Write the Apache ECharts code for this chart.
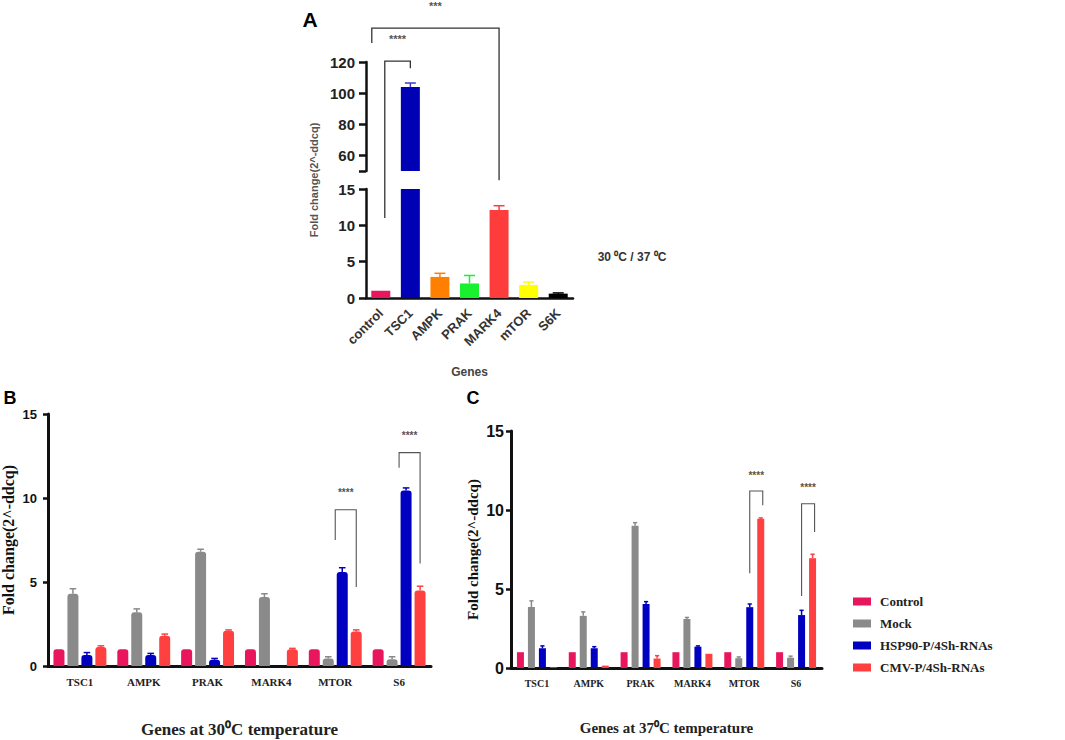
<!DOCTYPE html>
<html>
<head>
<meta charset="utf-8">
<script src="https://cdn.jsdelivr.net/npm/echarts@6.0.0/dist/echarts.min.js"></script>
<style>
  html, body { margin: 0; padding: 0; background: #fff; }
  #chart { width: 1065px; height: 740px; }
</style>
</head>
<body>
<div id="chart"></div>
<script>
// ---- data ----
// panel A: fold change 30C / 37C
var genesA = ['control', 'TSC1', 'AMPK', 'PRAK', 'MARK4', 'mTOR', 'S6K'];
var foldA  = [1.0, 104, 2.9, 2.0, 12.1, 1.8, 0.6];
var errA   = [1.0, 106.5, 3.4, 3.1, 12.7, 2.2, 0.7];

// panels B and C
var genesBC = ['TSC1', 'AMPK', 'PRAK', 'MARK4', 'MTOR', 'S6'];
var groups  = ['Control', 'Mock', 'HSP90-P/4Sh-RNAs', 'CMV-P/4Sh-RNAs'];

var b30Control = [1, 1, 1, 1, 1, 1];
var b30Mock    = [4.3, 3.2, 6.8, 4.1, 0.45, 0.4];
var b30Hsp     = [0.65, 0.65, 0.37, 0, 5.6, 10.45];
var b30Cmv     = [1.13, 1.8, 2.1, 1.0, 2.05, 4.5];
var b30MockErr = [4.6, 3.4, 6.95, 4.3, 0.55, 0.55];
var b30HspErr  = [0.8, 0.75, 0.45, 0, 5.85, 10.6];
var b30CmvErr  = [1.2, 1.9, 2.15, 1.05, 2.15, 4.75];

var c37Control = [1, 1, 1, 1, 1, 1];
var c37Mock    = [3.86, 3.3, 9.0, 3.1, 0.62, 0.65];
var c37Hsp     = [1.25, 1.25, 4.05, 1.35, 3.85, 3.35];
var c37Cmv     = [0.05, 0.15, 0.6, 0.9, 9.45, 6.95];
var c37MockErr = [4.25, 3.55, 9.2, 3.2, 0.7, 0.75];
var c37HspErr  = [1.4, 1.35, 4.2, 1.4, 4.05, 3.65];
var c37CmvErr  = [0.05, 0.15, 0.78, 0.9, 9.5, 7.2];

// significance brackets: gene index, left leg bottom, top, right leg bottom, stars level
var sigB = [[4, 7.5, 9.3, 4.7, 10.3], [5, 11.8, 12.7, 6.1, 13.75]];
var sigC = [[4, 6.0, 11.2, 10.3, 12.2], [5, 4.55, 10.4, 8.6, 11.45]];

// ---- styles ----
var SANS = "'Liberation Sans', Arial, sans-serif";
var SERIF = "'Liberation Serif', 'Times New Roman', serif";
var colorsA = ['#e8175d', '#0000b4', '#ff8000', '#19f02e', '#ff3c3c', '#ffff00', '#000000'];
var groupColors = ['#e8175d', '#8a8a8a', '#0000c0', '#ff4040'];

var chart = echarts.init(document.getElementById('chart'), null, { renderer: 'svg' });

// error bar drawn through the axes (x offset for grouped bars)
function errRender(offset, capW, color) {
  return function (params, api) {
    var lo = api.value(1), hi = api.value(2);
    if (!(hi > lo)) return;
    var p1 = api.coord([api.value(0), lo]);
    var p2 = api.coord([api.value(0), hi]);
    var cx = p1[0] + offset;
    return {
      type: 'group',
      children: [
        { type: 'line', shape: { x1: cx, y1: p1[1], x2: cx, y2: p2[1] }, style: { stroke: color, lineWidth: 1.5 } },
        { type: 'line', shape: { x1: cx - capW / 2, y1: p2[1], x2: cx + capW / 2, y2: p2[1] }, style: { stroke: color, lineWidth: 1.5 } }
      ]
    };
  };
}

function errData(vals, errs, keep) {
  return vals.map(function (v, i) {
    return keep(errs[i]) ? [i, v, errs[i]] : [i, '-', '-'];
  });
}

var axisBlack = { color: '#111', width: 2.5 };

var xAxes = [
  { gridIndex: 0, type: 'category', data: genesA, show: false },
  {
    gridIndex: 1, type: 'category', data: genesA,
    axisLine: { lineStyle: axisBlack },
    axisTick: { alignWithLabel: true, length: 8, lineStyle: axisBlack },
    axisLabel: { interval: 0, rotate: 45, margin: 13, fontFamily: SANS, fontWeight: 'bold', fontSize: 13, color: '#333' },
    name: 'Genes', nameLocation: 'middle', nameGap: 68,
    nameTextStyle: { fontFamily: SANS, fontWeight: 'bold', fontSize: 12, color: '#444' }
  },
  {
    gridIndex: 2, type: 'category', data: genesBC,
    axisLine: { lineStyle: { color: '#111', width: 3 } },
    axisTick: { alignWithLabel: true, length: 7, lineStyle: axisBlack },
    axisLabel: { interval: 0, margin: 10, fontFamily: SERIF, fontWeight: 'bold', fontSize: 11, color: '#222' },
    name: 'Genes at 30\u2070C temperature', nameLocation: 'middle', nameGap: 55,
    nameTextStyle: { fontFamily: SERIF, fontWeight: 'bold', fontSize: 17, color: '#222' }
  },
  {
    gridIndex: 3, type: 'category', data: genesBC,
    axisLine: { lineStyle: { color: '#111', width: 3 } },
    axisTick: { alignWithLabel: true, length: 6, lineStyle: axisBlack },
    axisLabel: { interval: 0, margin: 10, fontFamily: SERIF, fontWeight: 'bold', fontSize: 10, color: '#222' },
    name: 'Genes at 37\u2070C temperature', nameLocation: 'middle', nameGap: 52,
    nameTextStyle: { fontFamily: SERIF, fontWeight: 'bold', fontSize: 15, color: '#222' }
  }
];

var yAxes = [
  {
    gridIndex: 0, type: 'value', min: 50, max: 120,
    axisLine: { show: true, lineStyle: axisBlack },
    axisTick: { show: true, length: 7, lineStyle: axisBlack, customValues: [50, 60, 80, 100, 120] },
    axisLabel: { margin: 11, fontFamily: SANS, fontWeight: 'bold', fontSize: 15, color: '#222', customValues: [60, 80, 100, 120] },
    splitLine: { show: false }
  },
  {
    gridIndex: 1, type: 'value', min: 0, max: 15, interval: 5,
    axisLine: { show: true, lineStyle: axisBlack },
    axisTick: { show: true, length: 7, lineStyle: axisBlack },
    axisLabel: { margin: 11, fontFamily: SANS, fontWeight: 'bold', fontSize: 15, color: '#222' },
    splitLine: { show: false }
  },
  {
    gridIndex: 2, type: 'value', min: 0, max: 15, interval: 5,
    axisLine: { show: true, lineStyle: { color: '#111', width: 3 } },
    axisTick: { show: true, length: 5, lineStyle: axisBlack },
    axisLabel: { margin: 11, fontFamily: SANS, fontWeight: 'bold', fontSize: 13, color: '#111' },
    splitLine: { show: false },
    name: 'Fold change(2^-ddcq)', nameLocation: 'middle', nameGap: 32,
    nameTextStyle: { fontFamily: SERIF, fontWeight: 'bold', fontSize: 16, color: '#111' }
  },
  {
    gridIndex: 3, type: 'value', min: 0, max: 15, interval: 5,
    axisLine: { show: true, lineStyle: { color: '#111', width: 3 } },
    axisTick: { show: true, length: 5, lineStyle: axisBlack },
    axisLabel: { margin: 7, fontFamily: SANS, fontWeight: 'bold', fontSize: 16, color: '#111' },
    splitLine: { show: false },
    name: 'Fold change(2^-ddcq)', nameLocation: 'middle', nameGap: 31,
    nameTextStyle: { fontFamily: SERIF, fontWeight: 'bold', fontSize: 15, color: '#111' }
  }
];

var series = [];

// panel A, upper part of the broken axis and lower part
function barsA(idx, keep) {
  series.push({
    type: 'bar', xAxisIndex: idx, yAxisIndex: idx, barWidth: 19, clip: true,
    data: foldA.map(function (v, i) {
      return keep(v) ? { value: v, itemStyle: { color: colorsA[i] } } : '-';
    })
  });
}
barsA(0, function (v) { return v >= 50; });
barsA(1, function () { return true; });
function errA_series(idx, keep) {
  series.push({
    type: 'custom', xAxisIndex: idx, yAxisIndex: idx, z: 3,
    renderItem: function (params, api) {
      var i = api.value(0);
      return errRender(0, 11, colorsA[i] === '#0000b4' ? '#3a3ad0' : colorsA[i])(params, api);
    },
    data: errData(foldA, errA, keep)
  });
}
errA_series(0, function (e) { return e >= 50; });
errA_series(1, function (e) { return e <= 15; });

// panels B and C grouped bars
function groupBars(axisIdx, valsList, errList, barW, gapPx, radius) {
  valsList.forEach(function (vals, g) {
    series.push({
      name: groups[g], type: 'bar', xAxisIndex: axisIdx, yAxisIndex: axisIdx,
      barWidth: barW, barGap: Math.round(gapPx / barW * 100) + '%',
      itemStyle: { color: groupColors[g], borderRadius: radius },
      data: vals
    });
  });
  errList.forEach(function (errs, g) {
    if (!errs) return;
    var off = (g - 1.5) * (barW + gapPx);
    series.push({
      type: 'custom', xAxisIndex: axisIdx, yAxisIndex: axisIdx, z: 3,
      renderItem: errRender(off, barW * 0.6, groupColors[g]),
      data: errData(valsList[g], errs, function () { return true; })
    });
  });
}
groupBars(2, [b30Control, b30Mock, b30Hsp, b30Cmv], [null, b30MockErr, b30HspErr, b30CmvErr], 11, 3, [3, 3, 0, 0]);
groupBars(3, [c37Control, c37Mock, c37Hsp, c37Cmv], [null, c37MockErr, c37HspErr, c37CmvErr], 7, 4, 0);

var gridBase = { containLabel: false, outerBoundsMode: 'none' };
function grid(l, t, w, h) {
  return Object.assign({ left: l, top: t, width: w, height: h }, gridBase);
}

chart.setOption({
  animation: false,
  backgroundColor: '#ffffff',
  grid: [
    grid(366, 62, 207, 109),
    grid(366, 189, 207, 109),
    grid(48, 414, 383, 252),
    grid(511, 431, 311, 237)
  ],
  xAxis: xAxes,
  yAxis: yAxes,
  legend: {
    data: groups, orient: 'vertical', left: 848, top: 589,
    icon: 'rect', itemWidth: 18, itemHeight: 8, itemGap: 7,
    textStyle: { fontFamily: SERIF, fontWeight: 'bold', fontSize: 13, lineHeight: 15, color: '#222', padding: [0, 0, 0, 4] }
  },
  series: series
});

// ---- annotations placed through the axes ----
function px(g, cat, val) { return chart.convertToPixel({ gridIndex: g }, [cat, val]); }

function line(points, color, w) {
  return { type: 'polyline', shape: { points: points }, style: { stroke: color, lineWidth: w, fill: null }, z: 10 };
}
function txt(x, y, s, size, family, weight, color, extra) {
  return Object.assign({
    type: 'text', x: x, y: y, z: 10,
    style: { text: s, fontSize: size, fontFamily: family, fontWeight: weight, fill: color,
             align: 'center', verticalAlign: 'middle', textAlign: 'center', textVerticalAlign: 'middle' }
  }, extra || {});
}

var gfx = [];
// panel letters
gfx.push(txt(310, 19, 'A', 21, SANS, 'bold', '#000'));
gfx.push(txt(10, 398, 'B', 18, SANS, 'bold', '#000'));
gfx.push(txt(473, 398, 'C', 18, SANS, 'bold', '#000'));
// panel A y-axis title spanning the broken axis
gfx.push(txt(314, 180, 'Fold change(2^-ddcq)', 11, SANS, 'bold', '#555', { rotation: Math.PI / 2 }));
gfx.push(txt(632, 257, '30 \u2070C / 37 \u2070C', 12, SANS, 'bold', '#333'));

// panel A brackets
var c0 = px(1, 0, 11), c0t = px(0, 0, 120.6), t1 = px(0, 1, 116);
gfx.push(line([[c0[0] + 4, c0[1]], [c0[0] + 4, c0t[1]], [t1[0], c0t[1]], [t1[0], t1[1]]], '#333', 1.3));
var s4 = px(0, 0, 134.8);
gfx.push(txt((c0[0] + 4 + t1[0]) / 2, s4[1], '****', 11, SANS, 'bold', '#555'));
var d0 = px(0, 0, 132.2), dTop = px(0, 0, 141.8), m4 = px(1, 4, 16.2);
gfx.push(line([[d0[0] - 9, d0[1]], [d0[0] - 9, dTop[1]], [m4[0], dTop[1]], [m4[0], m4[1]]], '#333', 1.3));
var s3 = px(0, 0, 156);
gfx.push(txt((d0[0] - 9 + m4[0]) / 2, s3[1], '***', 11, SANS, 'bold', '#555'));

// panel B/C brackets
function brackets(g, sig, leftOff, rightOff) {
  sig.forEach(function (s) {
    var l = px(g, s[0], s[1]), top = px(g, s[0], s[2]), r = px(g, s[0], s[3]), st = px(g, s[0], s[4]);
    var xl = l[0] + leftOff, xr = l[0] + rightOff;
    gfx.push(line([[xl, l[1]], [xl, top[1]], [xr, top[1]], [xr, r[1]]], '#555', 1.1));
    gfx.push(txt((xl + xr) / 2, st[1], '****', 10, SANS, 'bold', '#555'));
  });
}
brackets(2, sigB, 0, 1.5 * 14);
brackets(3, sigC, 0.5 * 11, 1.5 * 11 + 2);

chart.setOption({ graphic: gfx });
</script>
</body>
</html>
